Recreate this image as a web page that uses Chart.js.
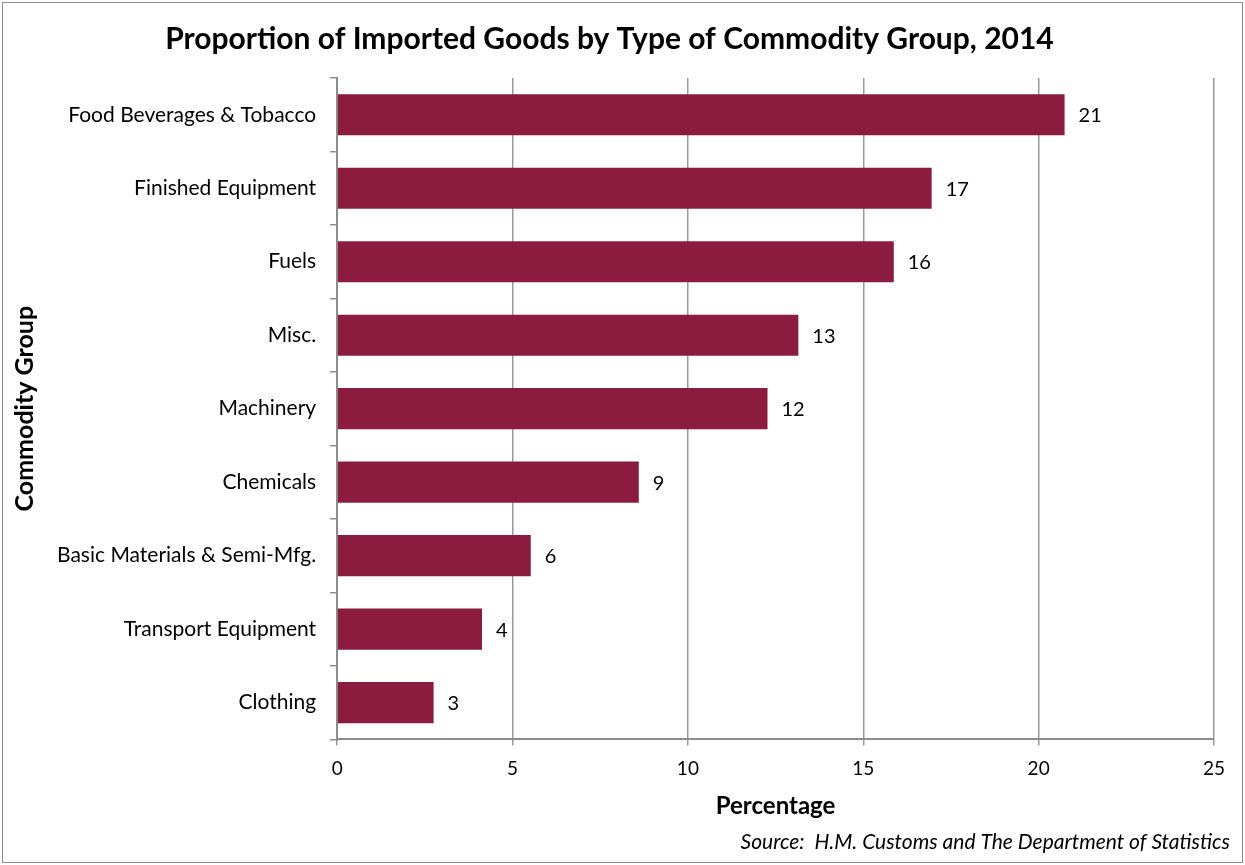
<!DOCTYPE html>
<html>
<head>
<meta charset="utf-8">
<script src="https://cdn.jsdelivr.net/npm/chart.js@4"></script>
<style>
  html, body { margin: 0; padding: 0; background: #ffffff; }
  #wrap { width: 1245px; height: 865px; }
</style>
</head>
<body>
<div id="wrap"><canvas id="chart" width="1245" height="865"></canvas></div>
<script>
// values
const categories = [
    'Food Beverages & Tobacco',
    'Finished Equipment',
    'Fuels',
    'Misc.',
    'Machinery',
    'Chemicals',
    'Basic Materials & Semi-Mfg.',
    'Transport Equipment',
    'Clothing'
];
const shares = [20.74, 16.95, 15.87, 13.15, 12.27, 8.6, 5.52, 4.13, 2.75];
const xTicks = [0, 5, 10, 15, 20, 25];
const sourceNote = 'Source:  H.M. Customs and The Department of Statistics';

const barColor = '#8B1C40';
const fontFamily = 'Lato, "Open Sans", sans-serif';

Chart.defaults.font.family = fontFamily;
Chart.defaults.color = '#000000';

// frame round the whole picture, plus the source note
const framePlugin = {
    id: 'frame',
    beforeDraw(chart) {
        const ctx = chart.ctx;
        ctx.save();
        ctx.fillStyle = '#ffffff';
        ctx.fillRect(0, 0, chart.width, chart.height);
        ctx.strokeStyle = '#8c8c8c';
        ctx.lineWidth = 1;
        ctx.strokeRect(2.5, 2.5, chart.width - 5, chart.height - 5);
        ctx.restore();
    },
    afterDraw(chart) {
        const ctx = chart.ctx;
        ctx.save();
        ctx.font = 'italic 21px ' + fontFamily;
        ctx.fillStyle = '#000000';
        ctx.textAlign = 'right';
        ctx.textBaseline = 'middle';
        ctx.fillText(sourceNote, chart.width - 15, 842);
        ctx.restore();
    }
};

// rounded value written after each bar
const valueLabels = {
    id: 'valueLabels',
    afterDatasetsDraw(chart) {
        const ctx = chart.ctx;
        const meta = chart.getDatasetMeta(0);
        ctx.save();
        ctx.font = '20px ' + fontFamily;
        ctx.fillStyle = '#000000';
        ctx.textAlign = 'left';
        ctx.textBaseline = 'middle';
        meta.data.forEach((bar, i) => {
            ctx.fillText(String(Math.round(shares[i])), bar.x + 14, bar.y + 1);
        });
        ctx.restore();
    }
};

new Chart(document.getElementById('chart'), {
    type: 'bar',
    data: {
        labels: categories,
        datasets: [{
            data: shares,
            backgroundColor: barColor,
            borderWidth: 0,
            barPercentage: 0.56,
            categoryPercentage: 1
        }]
    },
    options: {
        indexAxis: 'y',
        responsive: false,
        animation: false,
        layout: {
            padding: { left: 5, right: 31, top: 6, bottom: 44 }
        },
        plugins: {
            legend: { display: false },
            tooltip: { enabled: false },
            title: {
                display: true,
                text: 'Proportion of Imported Goods by Type of Commodity Group, 2014',
                font: { size: 30, weight: 'bold' },
                color: '#000000',
                padding: { top: 15, bottom: 21 }
            }
        },
        scales: {
            x: {
                min: 0,
                max: 25,
                afterBuildTicks(axis) {
                    axis.ticks = xTicks.map(v => ({ value: v }));
                },
                grid: {
                    color: '#9a9a9a',
                    lineWidth: 1.5,
                    drawTicks: true,
                    tickLength: 6
                },
                border: { color: '#8c8c8c', width: 2 },
                ticks: {
                    font: { size: 19 },
                    color: '#000000',
                    padding: 12
                },
                title: {
                    display: true,
                    text: 'Percentage',
                    font: { size: 24, weight: 'bold' },
                    color: '#000000',
                    padding: { top: 0, bottom: 0 }
                }
            },
            y: {
                offset: true,
                grid: {
                    offset: true,
                    drawOnChartArea: false,
                    drawTicks: true,
                    tickLength: 7,
                    color: '#8c8c8c',
                    lineWidth: 1.5
                },
                border: { color: '#8c8c8c', width: 2 },
                ticks: {
                    font: { size: 21 },
                    color: '#000000',
                    padding: 14
                },
                title: {
                    display: true,
                    text: 'Commodity Group',
                    font: { size: 25, weight: 'bold' },
                    color: '#000000',
                    padding: { top: 5, bottom: 3 }
                }
            }
        }
    },
    plugins: [framePlugin, valueLabels]
});
</script>
</body>
</html>
